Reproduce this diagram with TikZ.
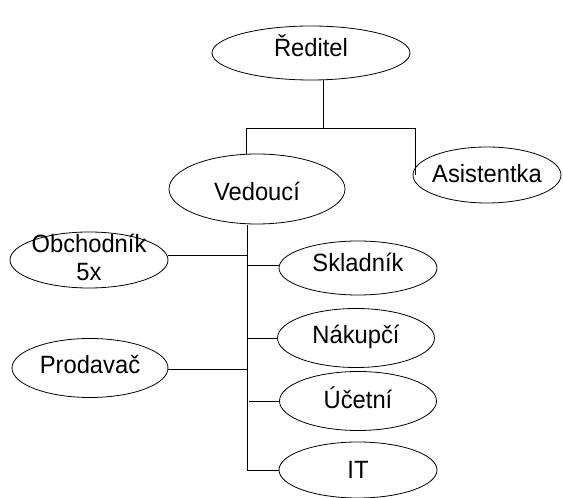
\documentclass[tikz,border=0pt]{standalone}
\usepackage{fontspec}
\setmainfont[FakeStretch=0.95]{Liberation Sans}
\usetikzlibrary{shapes.geometric}
\begin{document}
\begin{tikzpicture}[x=1pt,y=1pt,
  role/.style={draw=black, line width=0.8pt, ellipse, inner sep=0pt},
  txt/.style={font=\fontsize{25}{28}\selectfont, inner sep=0pt,
    text height=18pt, text depth=5pt},
  txt2/.style={font=\fontsize{25}{28}\selectfont, inner sep=0pt, align=center},
  link/.style={draw=black, line width=0.8pt}]
\useasboundingbox (0,0) rectangle (563,498);

% ellipses with their titles
\node[role, minimum width=198pt, minimum height=54pt,
  label={[txt, yshift=2.5pt]center:Ředitel}] (dir) at (311,445) {};
\node[role, minimum width=148pt, minimum height=56pt,
  label={[txt, yshift=-1.5pt]center:Asistentka}] (asi) at (487,323) {};
\node[role, minimum width=176pt, minimum height=70pt,
  label={[txt, yshift=-5pt]center:Vedoucí}] (ved) at (257,309) {};
\node[role, minimum width=158pt, minimum height=56pt,
  label={[txt2, yshift=3pt]center:Obchodník\\5x}] (obch) at (89,238) {};
\node[role, minimum width=158pt, minimum height=54pt,
  label={[txt, yshift=2.5pt]center:Skladník}] (skl) at (358,230) {};
\node[role, minimum width=157pt, minimum height=59pt,
  label={[txt, yshift=0.5pt]center:Nákupčí}] (nak) at (356,160) {};
\node[role, minimum width=156pt, minimum height=59pt,
  label={[txt, yshift=0.5pt]center:Prodavač}] (prod) at (90,130) {};
\node[role, minimum width=157pt, minimum height=59pt,
  label={[txt, yshift=-1.5pt]center:Účetní}] (uce) at (358,97) {};
\node[role, minimum width=158pt, minimum height=56pt,
  label={[txt, yshift=-2.5pt]center:IT}] (it) at (358,28) {};

% junctions of the top level
\coordinate (top)  at (323,370);
\coordinate (lft)  at (246,370);
\coordinate (rgt)  at (415,370);
% trunk below the manager
\coordinate (tr0) at (247,273);
\coordinate (tr1) at (247,28);
% branch points on the trunk
\coordinate (bObch) at (247,243);
\coordinate (bSkl)  at (247,233);
\coordinate (bNak)  at (247,160);
\coordinate (bProd) at (247,129);
\coordinate (bUce)  at (249,97);
\coordinate (bIt)   at (247,28);

\draw[link] (top |- dir.south) -- (top);
\draw[link] (lft) -- (rgt);
\draw[link] (lft) -- (lft |- ved.north);
\draw[link] (rgt) -- (rgt |- asi.west);
\draw[link] (tr0) -- (tr1);
\draw[link] (bObch) -- (bObch -| obch.east);
\draw[link] (bSkl)  -- (bSkl -| skl.west);
\draw[link] (bNak)  -- (bNak -| nak.west);
\draw[link] (bProd) -- (bProd -| prod.east);
\draw[link] (bUce)  -- (bUce -| uce.west);
\draw[link] (bIt)   -- (it.west);
\end{tikzpicture}
\end{document}
